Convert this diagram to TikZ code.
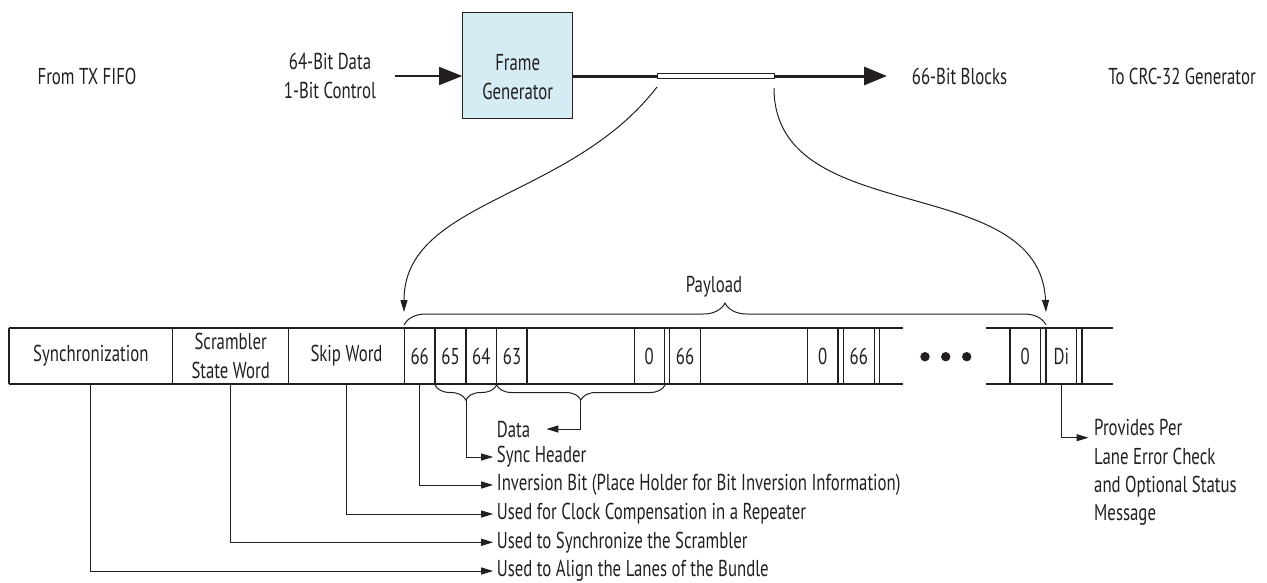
\documentclass[tikz,border=0pt]{standalone}
\usepackage{fontspec}
\setmainfont{PT Sans}[FakeStretch=0.73]
\usetikzlibrary{arrows.meta,decorations.pathreplacing}

\definecolor{ink}{HTML}{231F20}
\definecolor{genblue}{HTML}{D5ECF4}

\begin{document}
\begin{tikzpicture}[x=1pt,y=-1pt,
  every node/.style={text=ink,font=\fontsize{23}{28.3}\selectfont,inner sep=0pt},
  wire/.style={draw=ink,line width=1pt},
  cell/.style={draw=ink,line width=1.3pt},
  bigtip/.style={-{Triangle[length=23pt,width=18pt]}},
  tip/.style={-{Triangle[length=12pt,width=7pt]}},
  brc/.style={decorate,decoration={brace,amplitude=#1}}]
\useasboundingbox (0,0) rectangle (1267,582);

% top row
\node (fifo) at (87,76) {From TX FIFO};
\node[align=center] (din) at (330,76) {64-Bit Data\\1-Bit Control};
\node[draw=ink,line width=1pt,fill=genblue,minimum width=110pt,minimum height=106pt] (fg) at (517.7,65) {};
\node[align=center] (fgtxt) at (517.7,77) {Frame\\Generator};
\node (blk) at (959.5,76) {66-Bit Blocks};
\node (crc) at (1182,76) {To CRC-32 Generator};
\coordinate (in) at (395,76);
\coordinate (hs) at (657,76);
\coordinate (he) at (774,76);
\coordinate (out) at (887,76);
\draw[ink,line width=1.5pt,bigtip] (in) -- (fg.west |- in);
\draw[ink,line width=3pt] (fg.east |- hs) -- (hs);
\draw[ink,line width=3pt,bigtip] (he) -- (out);
\draw[ink,line width=1pt,fill=white] (657,73.2) rectangle (774,78.8);

% frame
\coordinate (ftop) at (0,328);
\coordinate (fbot) at (0,384);
\draw[cell] (9,328) -- (902.7,328) (9,384) -- (902.7,384);
\draw[cell] (986,328) -- (1112.7,328) (986,384) -- (1112.7,384);
\foreach \x in {9,172.7,288.7,404.3,435,466,496.7,527,634.3,664.3,669.3,700.7,807.3,838,843.3,874.3,879.3,1010,1040.7,1046,1076.7,1082}
  \draw[cell] (\x,328) -- (\x,384);
\node (sync) at (90.85,356) {Synchronization};
\node[align=center] (scr) at (230.7,356) {Scrambler\\State Word};
\node (skip) at (346.5,356) {Skip Word};
\foreach \x/\t/\n in {419.7/66/ib,450.5/65/sha,481.3/64/shb,512/63/dhi,649.3/0/dlo,685/66/nhi,822.6/0/nlo,858.8/66/mhi,1025.3/0/llo,1061.3/Di/di}
  \node (\n) at (\x,356) {\t};
\foreach \x in {925,945.7,966.7}
  \fill[ink] (\x,356.7) circle (4.7pt);

% curves from the block stream
\coordinate (pl) at (404,312);
\coordinate (pr) at (1046,312);
\draw[wire,tip] (hs |- 0,87) .. controls (570,200) and (404,200) .. (pl);
\draw[wire,tip] (he |- 0,88) .. controls (774,230) and (1040,170) .. (pr);
\draw[wire,brc=22pt] (404,325) -- (1046,325);
\node (pay) at (714,287) {Payload};

% braces under the frame
\coordinate (shtip) at (466,400);
\coordinate (dtip) at (580.7,400);
\draw[wire,brc=15pt] (496.7,385) -- (435,385);
\draw[wire,brc=15pt] (665,385) -- (496.7,385);

% descriptions
\node[anchor=west] (data) at (496.7,429) {Data};
\node[anchor=west] (shd) at (496.7,457) {Sync Header};
\node[anchor=west] (inv) at (496.7,485) {Inversion Bit (Place Holder for Bit Inversion Information)};
\node[anchor=west] (clk) at (496.7,514) {Used for Clock Compensation in a Repeater};
\node[anchor=west] (scrm) at (496.7,542.3) {Used to Synchronize the Scrambler};
\node[anchor=west] (aln) at (496.7,571) {Used to Align the Lanes of the Bundle};
\node[anchor=west,align=left] (prov) at (1094,472.5) {Provides Per\\Lane Error Check\\and Optional Status\\Message};

\draw[wire,tip] (dtip) |- ([xshift=16pt]data.east);
\draw[wire,tip] (shtip) |- ([xshift=-3.5pt]shd.west);
\draw[wire,tip] (ib |- fbot) |- ([xshift=-3.5pt]inv.west);
\draw[wire,tip] (skip |- fbot) |- ([xshift=-3.5pt]clk.west);
\draw[wire,tip] (scr |- fbot) |- ([xshift=-3.5pt]scrm.west);
\draw[wire,tip] (sync |- fbot) |- ([xshift=-3.5pt]aln.west);
\draw[wire,tip] (di |- fbot) |- ([xshift=-5.5pt]prov.west |- 0,437.7);
\end{tikzpicture}
\end{document}
